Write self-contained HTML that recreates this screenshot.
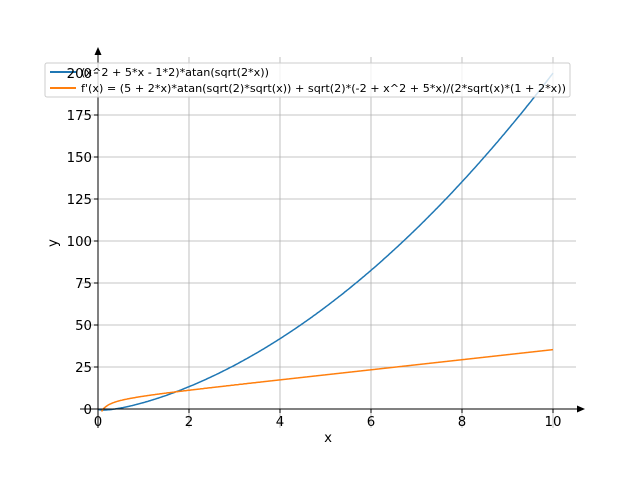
<!DOCTYPE html>
<html><head><style>
body{margin:0;background:#fff;}
svg{display:block;font-family:"DejaVu Sans","Liberation Sans",sans-serif;}
</style></head><body>
<svg id="s" width="640" height="480" xmlns="http://www.w3.org/2000/svg">
<rect width="640" height="480" fill="#fff"/>
<g id="grid" stroke="#b0b0b0" stroke-width="0.8"></g>
<defs><clipPath id="c"><rect x="80" y="57" width="496" height="371"/></clipPath></defs>
<g clip-path="url(#c)">
<polyline id="b" fill="none" stroke="#1f77b4" stroke-width="1.5"/>
<polyline id="o" fill="none" stroke="#ff7f0e" stroke-width="1.5"/>
</g>
<line x1="98" y1="428" x2="98" y2="52" stroke="#000" stroke-width="1"/>
<polygon points="98,47 94.5,55 101.5,55" fill="#000"/>
<line x1="80" y1="409" x2="580" y2="409" stroke="#000" stroke-width="1"/>
<polygon points="585,409 577,405.5 577,412.5" fill="#000"/>
<g id="ticks" font-size="13.3" fill="#000"></g>
<text x="328" y="442" font-size="13.3" text-anchor="middle">x</text>
<text x="57" y="243" font-size="13.3" text-anchor="middle" transform="rotate(-90 57 243)">y</text>
<rect x="45" y="63" width="525" height="34" rx="2" fill="#fff" fill-opacity="0.8" stroke="#ccc" stroke-width="1"/>
<line x1="50" y1="72" x2="76" y2="72" stroke="#1f77b4" stroke-width="2"/>
<line x1="50" y1="88" x2="76" y2="88" stroke="#ff7f0e" stroke-width="2"/>
<text x="81" y="76" font-size="10.7" textLength="188" lengthAdjust="spacingAndGlyphs">(x^2 + 5*x - 1*2)*atan(sqrt(2*x))</text>
<text x="81" y="92" font-size="10.7" textLength="485" lengthAdjust="spacingAndGlyphs">f'(x) = (5 + 2*x)*atan(sqrt(2)*sqrt(x)) + sqrt(2)*(-2 + x^2 + 5*x)/(2*sqrt(x)*(1 + 2*x))</text>
<text x="92" y="78" font-size="13.3" text-anchor="end">200</text>
<line x1="98" y1="73" x2="94" y2="73" stroke="#000"/>
</svg>
<script>
var X=function(x){return 98+45.5*x},Y=function(y){return 409-1.68*y};
var g=document.getElementById('grid'),t=document.getElementById('ticks'),ns='http://www.w3.org/2000/svg';
function el(p,n,a,txt){var e=document.createElementNS(ns,n);for(var k in a)e.setAttribute(k,a[k]);if(txt!=null)e.textContent=txt;p.appendChild(e);return e;}
for(var i=0;i<=10;i+=2){var x=X(i);el(g,'line',{x1:x,x2:x,y1:57,y2:428});el(t,'line',{x1:x,x2:x,y1:409,y2:413,stroke:'#000'});el(t,'text',{x:x,y:426,'text-anchor':'middle'},i);}
for(var v=0;v<=175;v+=25){var y=Y(v);el(g,'line',{x1:80,x2:576,y1:y,y2:y});el(t,'line',{x1:94,x2:98,y1:y,y2:y,stroke:'#000'});el(t,'text',{x:92,y:y+5,'text-anchor':'end'},v);}
function f(x){return (x*x+5*x-2)*Math.atan(Math.sqrt(2*x));}
function d(x){return (5+2*x)*Math.atan(Math.SQRT2*Math.sqrt(x))+Math.SQRT2*(-2+x*x+5*x)/(2*Math.sqrt(x)*(1+2*x));}
var pb=[],po=[];
for(var k=0;k<=400;k++){var x=k/40;pb.push(X(x).toFixed(1)+','+Y(f(x)).toFixed(1));}
for(var k=0;k<=400;k++){var x=0.08+k*(9.92/400);po.push(X(x).toFixed(1)+','+Y(d(x)).toFixed(1));}
document.getElementById('b').setAttribute('points',pb.join(' '));
document.getElementById('o').setAttribute('points',po.join(' '));
</script>
</body></html>
